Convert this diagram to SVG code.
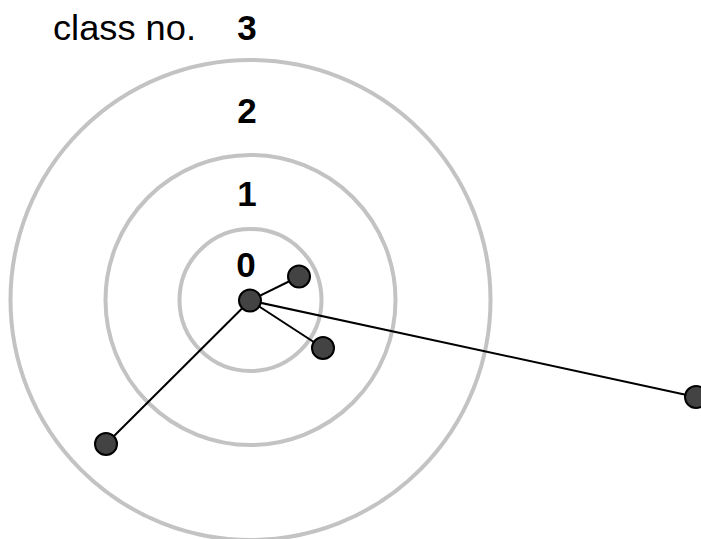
<svg xmlns="http://www.w3.org/2000/svg" width="701" height="539" viewBox="0 0 701 539">
<style>
.ring{fill:none;stroke:#c3c3c3;stroke-width:4}
.node{fill:#434343;stroke:#000;stroke-width:2}
.lbl{font-family:"Liberation Sans",Arial,sans-serif;font-size:35px;fill:#000}
.num{font-weight:bold;text-anchor:middle}
.edge{stroke:#000;stroke-width:2;fill:none}
</style>
<rect width="701" height="539" fill="#fff"/>
<g id="rings">
<circle class="ring" cx="250.5" cy="300" r="240"/>
<circle class="ring" cx="250.5" cy="300" r="145"/>
<circle class="ring" cx="250.5" cy="300" r="71"/>
</g>
<g id="labels">
<text class="lbl" x="53" y="40" textLength="143" lengthAdjust="spacingAndGlyphs">class no.</text>
<text class="lbl num" x="247" y="40">3</text>
<text class="lbl num" x="247" y="123">2</text>
<text class="lbl num" x="247" y="206">1</text>
<text class="lbl num" x="246" y="277">0</text>
</g>
<g id="connectors">
<line class="edge" x1="250" y1="300.5" x2="299" y2="276.5"/>
<line class="edge" x1="250" y1="300.5" x2="323" y2="348"/>
<line class="edge" x1="250" y1="300.5" x2="106" y2="444"/>
<line class="edge" x1="250" y1="300.5" x2="696" y2="397"/>
</g>
<g id="n0"><circle class="node" cx="250" cy="300.5" r="11"/></g>
<g id="n1"><circle class="node" cx="299" cy="276.5" r="11"/></g>
<g id="n2"><circle class="node" cx="323" cy="348" r="11"/></g>
<g id="n3"><circle class="node" cx="106" cy="444" r="11"/></g>
<g id="n4"><circle class="node" cx="696" cy="397" r="11"/></g>
</svg>
